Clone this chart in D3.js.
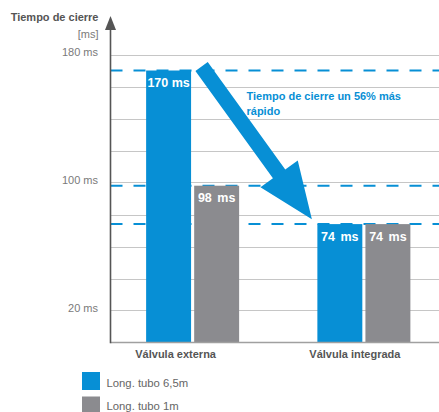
<!DOCTYPE html>
<html>
<head>
<meta charset="utf-8">
<script src="https://cdn.jsdelivr.net/npm/d3@7"></script>
<style>
  html, body { margin: 0; padding: 0; background: #fff; }
  svg { display: block; font-family: "Liberation Sans", Arial, Helvetica, sans-serif; }
</style>
</head>
<body>
<svg id="chart" width="439" height="412"></svg>
<script>
const categories = ["Válvula externa", "Válvula integrada"];
const seriesNames = ["Long. tubo 6,5m", "Long. tubo 1m"];
const seriesLong = [170, 74];
const seriesShort = [98, 74];
const tickLabels = [180, 100, 20];
const gridValues = [20, 40, 60, 80, 100, 120, 140, 160, 180];
const refLines = [170, 98, 74];
const yTitle = "Tiempo de cierre";
const yUnit = "[ms]";
const annotationLines = ["Tiempo de cierre un 56% más", "rápido"];

const BLUE = "#078fd5";
const GRAY = "#8b8b8f";
const colors = [BLUE, GRAY];

const svg = d3.select("#chart");
const axisX = 110.5, rightX = 439;

const y = d3.scaleLinear().domain([0, 180]).range([342.5, 54.5]);
const x = d3.scaleBand().domain(categories).range([107, 449.5]).padding(0);
const xs = d3.scaleBand().domain(seriesNames).range([0, 93]).paddingInner(0.0645);
const groupLeft = c => x(c) + x.bandwidth() / 2 - 46.5;

// gridlines
svg.append("g").selectAll("line").data(gridValues).join("line")
  .attr("x1", axisX).attr("x2", rightX)
  .attr("y1", d => Math.round(y(d)) + 0.5).attr("y2", d => Math.round(y(d)) + 0.5)
  .attr("stroke", "#c6c6c6").attr("stroke-width", 1);

// dashed reference lines
svg.append("g").selectAll("line").data(refLines).join("line")
  .attr("x1", axisX).attr("x2", rightX)
  .attr("y1", d => y(d)).attr("y2", d => y(d))
  .attr("stroke", BLUE).attr("stroke-width", 2)
  .attr("stroke-dasharray", "12,11");

// bars
const data = categories.map((c, i) => [
  { cat: c, s: seriesNames[0], v: seriesLong[i], ci: 0 },
  { cat: c, s: seriesNames[1], v: seriesShort[i], ci: 1 }
]).flat();

svg.append("g").selectAll("rect").data(data).join("rect")
  .attr("x", d => groupLeft(d.cat) + xs(d.s))
  .attr("width", xs.bandwidth())
  .attr("y", d => y(d.v))
  .attr("height", d => y(0) - y(d.v))
  .attr("fill", d => colors[d.ci]);

svg.append("g").selectAll("text").data(data).join("text")
  .attr("x", d => groupLeft(d.cat) + xs(d.s) + xs.bandwidth() / 2)
  .attr("y", d => y(d.v) + 16.5)
  .attr("text-anchor", "middle")
  .attr("fill", "#fff").attr("font-weight", "bold").attr("font-size", "12.5px")
  .attr("word-spacing", d => d.v < 100 ? "2px" : "0px")
  .text(d => d.v + " ms");

// baseline
svg.append("line").attr("x1", axisX).attr("x2", rightX)
  .attr("y1", y(0)).attr("y2", y(0))
  .attr("stroke", "#a0a0a0").attr("stroke-width", 1.5);

// y axis with arrow
svg.append("line").attr("x1", axisX).attr("x2", axisX)
  .attr("y1", 26).attr("y2", y(0) + 0.75)
  .attr("stroke", "#555").attr("stroke-width", 1.6);
svg.append("path")
  .attr("d", `M${axisX},16 L${axisX - 5.5},30 L${axisX + 5.5},30 Z`)
  .attr("fill", "#555");

// y tick labels
svg.append("g").selectAll("text").data(tickLabels).join("text")
  .attr("x", 98).attr("y", d => y(d) + 1)
  .attr("text-anchor", "end").attr("fill", "#7a7a7a").attr("font-size", "11px")
  .text(d => d + " ms");

// y title
svg.append("text").attr("x", 98.5).attr("y", 21)
  .attr("text-anchor", "end").attr("fill", "#555").attr("font-weight", "bold").attr("font-size", "11px")
  .text(yTitle);
svg.append("text").attr("x", 98.5).attr("y", 38)
  .attr("text-anchor", "end").attr("fill", "#7a7a7a").attr("font-size", "11px")
  .text(yUnit);

// x labels
svg.append("g").selectAll("text").data(categories).join("text")
  .attr("x", (d, i) => x(d) + x.bandwidth() / 2 - (i === 0 ? 17 : 9))
  .attr("y", 358)
  .attr("text-anchor", "middle").attr("fill", "#555").attr("font-weight", "bold").attr("font-size", "11px")
  .text(d => d);

// big arrow (annotation)
const x0 = groupLeft(categories[0]) + xs(seriesNames[0]) + xs.bandwidth() + 10.5;
const y0 = y(172.5);
const x1 = groupLeft(categories[1]) - 5.5;
const y1 = y(77);
const dx = x1 - x0, dy = y1 - y0, L = Math.hypot(dx, dy);
const ux = dx / L, uy = dy / L, px = -uy, py = ux;
const sw = 7.6, hw = 23, hl = 56;
const bx = x1 - ux * hl, by = y1 - uy * hl;
const pts = [
  [x0 + px * sw, y0 + py * sw],
  [bx + px * sw, by + py * sw],
  [bx + px * hw, by + py * hw],
  [x1, y1],
  [bx - px * hw, by - py * hw],
  [bx - px * sw, by - py * sw],
  [x0 - px * sw, y0 - py * sw]
];
svg.append("path").attr("d", d3.line()(pts) + "Z").attr("fill", BLUE);

// annotation text
svg.append("g").selectAll("text").data(annotationLines).join("text")
  .attr("x", 246.5).attr("y", (d, i) => 100 + i * 14.8)
  .attr("fill", BLUE).attr("font-weight", "bold").attr("font-size", "11px")
  .text(d => d);

// legend
const lg = svg.append("g");
seriesNames.forEach((s, i) => {
  lg.append("rect").attr("x", 82).attr("y", 372 + i * 24.5).attr("width", 18).attr("height", 18).attr("fill", colors[i]);
  lg.append("text").attr("x", 106.5).attr("y", 386.5 + i * 23)
    .attr("fill", "#666").attr("font-size", "11.3px").text(s);
});
</script>
</body>
</html>
